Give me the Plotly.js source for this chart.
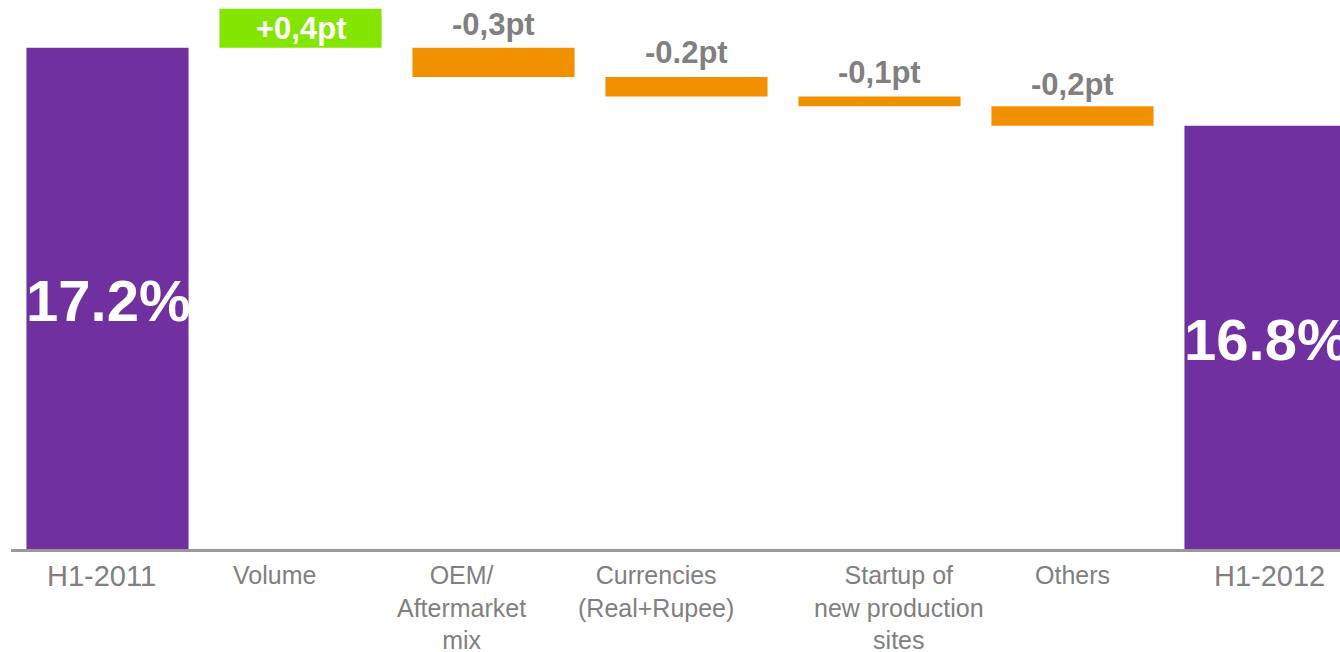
<!DOCTYPE html>
<html>
<head>
<meta charset="utf-8">
<script src="https://cdn.plot.ly/plotly-3.0.1.min.js"></script>
<style>
  html, body { margin: 0; padding: 0; background: #ffffff; }
  #chart { width: 1340px; height: 652px; }
</style>
</head>
<body>
<div id="chart"></div>
<script>
// ---- data ----
const categories = ['H1-2011', 'Volume', 'OEM/Aftermarket mix', 'Currencies', 'Startup', 'Others', 'H1-2012'];
const categoryLabels = ['H1-2011', 'Volume', 'OEM/<br>Aftermarket<br>mix', 'Currencies<br>(Real+Rupee)', 'Startup of<br>new production<br>sites', 'Others', 'H1-2012'];
// bar spans as drawn in the reference (the step bars are drawn at their own visual scale)
const barStart = [0, 17.2, 17.2, 17.05, 16.95, 16.90, 0];
const barEnd   = [17.2, 17.4, 17.05, 16.95, 16.90, 16.8, 16.8];
const barKind  = ['total', 'up', 'down', 'down', 'down', 'down', 'total'];
const valueLabels = ['17.2%', '+0,4pt', '-0,3pt', '-0.2pt', '-0,1pt', '-0,2pt', '16.8%'];

// ---- styles / layout helpers ----
const COLORS = { total: '#7030A0', up: '#84E600', down: '#F29100' };
const FONT = 'Liberation Sans, Arial, Helvetica, sans-serif';
const yRange = [14.63, 17.445];
const labelXShift = [-6, -26, -32, -31, 19, 0, 4];
const labelSize = [29, 25, 25, 25, 25, 25, 29];
const labelYShift = [-9, -10, -10, -10, -10, -10, -9];
const valueYShift = [0, 0, 4, 5, 5, 2, 0];

const base = barStart.map((s, i) => Math.min(s, barEnd[i]));
const height = barStart.map((s, i) => Math.abs(barEnd[i] - s));

const trace = {
  type: 'bar',
  x: categories,
  y: height,
  base: base,
  width: 0.84,
  marker: { color: barKind.map(k => COLORS[k]), line: { width: 0 } },
  hoverinfo: 'skip',
  showlegend: false
};

const annotations = [];
categories.forEach((c, i) => {
  // category labels under the axis
  annotations.push({
    x: c, xref: 'x', y: 0, yref: 'paper',
    xanchor: 'center', yanchor: 'top', yshift: labelYShift[i], xshift: labelXShift[i],
    text: categoryLabels[i], showarrow: false, align: 'center',
    font: { family: FONT, size: labelSize[i], color: '#808080' }
  });
  const top = Math.max(barStart[i], barEnd[i]);
  const bottom = Math.max(Math.min(barStart[i], barEnd[i]), yRange[0]);
  if (barKind[i] === 'total') {
    annotations.push({
      x: c, xref: 'x', y: (top + bottom) / 2, yref: 'y',
      xanchor: 'center', yanchor: 'middle', yshift: -2,
      text: '<b>' + valueLabels[i] + '</b>', showarrow: false,
      font: { family: FONT, size: 58, color: '#ffffff' }
    });
  } else if (barKind[i] === 'up') {
    annotations.push({
      x: c, xref: 'x', y: (top + bottom) / 2, yref: 'y',
      xanchor: 'center', yanchor: 'middle', yshift: 0,
      text: '<b>' + valueLabels[i] + '</b>', showarrow: false,
      font: { family: FONT, size: 31, color: '#ffffff' }
    });
  } else {
    annotations.push({
      x: c, xref: 'x', y: top, yref: 'y',
      xanchor: 'center', yanchor: 'bottom', yshift: valueYShift[i],
      text: '<b>' + valueLabels[i] + '</b>', showarrow: false,
      font: { family: FONT, size: 31, color: '#808080' }
    });
  }
});

const layout = {
  width: 1340, height: 652,
  margin: { l: 11, r: 0, t: 0, b: 103, pad: 0 },
  paper_bgcolor: '#ffffff', plot_bgcolor: '#ffffff',
  showlegend: false,
  bargap: 0.16,
  xaxis: {
    type: 'category', range: [-0.5, 6.386],
    showline: true, linecolor: '#999999', linewidth: 3,
    showticklabels: false, ticks: '', showgrid: false, zeroline: false, fixedrange: true
  },
  yaxis: {
    range: yRange, showline: false, showticklabels: false, ticks: '',
    showgrid: false, zeroline: false, fixedrange: true
  },
  annotations: annotations
};

Plotly.newPlot('chart', [trace], layout, { displayModeBar: false, staticPlot: true });
</script>
</body>
</html>
